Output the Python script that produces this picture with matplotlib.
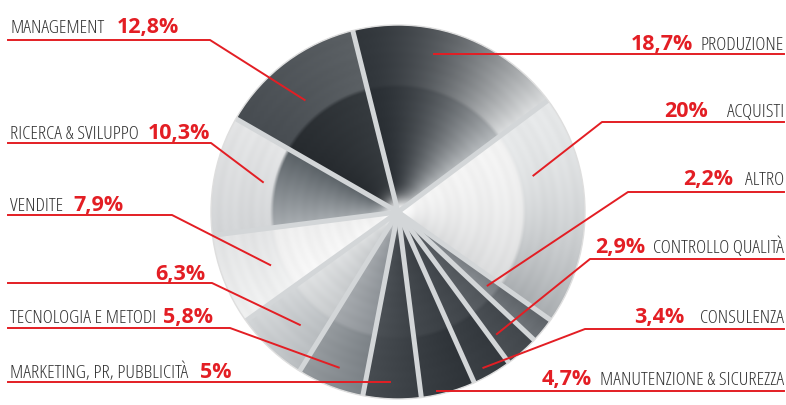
import numpy as np
import matplotlib
matplotlib.use("Agg")
import matplotlib.pyplot as plt
from matplotlib.colors import to_rgb

# slices, clockwise from the top
categories = ["PRODUZIONE", "ACQUISTI", "ALTRO", "CONTROLLO QUALITÀ", "CONSULENZA",
              "MANUTENZIONE & SICUREZZA", "MARKETING, PR, PUBBLICITÀ",
              "TECNOLOGIA E METODI", "", "VENDITE", "RICERCA & SVILUPPO", "MANAGEMENT"]
values = [18.7, 20.0, 2.2, 2.9, 3.4, 4.7, 5.0, 5.8, 6.3, 7.9, 10.3, 12.8]

W, H = 786, 406
cx, cy, R = 398, H - 213, 187
RED = "#e31e24"
SEP = "#d3d6d8"

# metal shading per slice: outer start, outer end, inner start, inner end, gamma
slice_shades = [
    ("#31363b", "#dcdedf", "#2a2f34", "#b8bcbf", 1.7),
    ("#e6e8e9", "#a9adb0", "#f3f3f3", "#dadbdc", 1.8),
    ("#5e6368", "#6f7479", "#767b80", "#868b90", 1.0),
    ("#41464b", "#4a4f54", "#50555a", "#5a5f64", 1.0),
    ("#33383d", "#3b4045", "#3f4449", "#474c51", 1.0),
    ("#2e3338", "#393e43", "#3a3f44", "#44494e", 1.0),
    ("#393e43", "#474c51", "#3d4247", "#4c5156", 1.0),
    ("#7b8186", "#969b9f", "#8e9398", "#a6aaae", 1.0),
    ("#b9bdc0", "#d3d6d8", "#c8cbcd", "#dfe1e2", 1.0),
    ("#f0f1f1", "#e2e3e4", "#f7f7f7", "#eeeeee", 1.0),
    ("#d3d5d7", "#e4e5e6", "#a8adb1", "#596065", 1.0),
    ("#474c51", "#5b6064", "#262a2e", "#363b3f", 1.0),
]

# label layout: side, label x, baseline y (px), percent x, line row y,
# outer x of line, elbow x (None = straight), position in slice (t, radius fraction)
layout = [
    ("R", 784, 50, 693, 55, 784, None, 0.40, 0.87),
    ("R", 784, 117, 708, 123, 784, 602, 0.30, 0.75),
    ("R", 784, 185, 733, 193, 784, 628, 0.51, 0.62),
    ("R", 784, 253, 645, 260, 784, 590, 0.74, 0.84),
    ("R", 784, 323, 684, 330, 784, 585, 0.62, 0.95),
    ("R", 784, 385, 592, 392, 784, None, 0.70, 0.98),
    ("L", 10, 378, 200, 383, 8, None, 0.55, 0.91),
    ("L", 10, 323, 163, 329, 8, 230, 0.48, 0.89),
    ("L", 10, 280, 155, 284, 8, 212, 0.41, 0.80),
    ("L", 10, 211, 73, 216, 8, 172, 0.46, 0.74),
    ("L", 10, 139, 148, 144, 8, 211, 0.53, 0.74),
    ("L", 10, 33, 117, 41, 8, 210, 0.44, 0.78),
]


def pct_text(v):
    s = f"{v:.1f}".replace(".", ",")
    if s.endswith(",0"):
        s = s[:-2]
    return s + "%"


fig = plt.figure(figsize=(W / 100, H / 100), dpi=100)
ax = fig.add_axes([0, 0, 1, 1])

wedges, _ = ax.pie(values, startangle=104, counterclock=False, center=(cx, cy), radius=R,
                   colors=["none"] * len(values), wedgeprops=dict(linewidth=0))
ax.set_xlim(0, W)
ax.set_ylim(0, H)
ax.set_aspect("equal")
ax.axis("off")

# metallic fill, clipped to each wedge
n = 600
xs = np.linspace(cx - R, cx + R, n)
ys = np.linspace(cy - R, cy + R, n)
X, Y = np.meshgrid(xs, ys)
dist = np.hypot(X - cx, Y - cy) / R
phi = np.degrees(np.arctan2(Y - cy, X - cx))
glow = np.exp(-(dist / 0.08) ** 2)[..., None]
bands = (1 + 0.007 * np.sin(dist * 110) + 0.006 * np.sin(dist * 37))[..., None]
ring = np.clip((dist - 0.665) / 0.02, 0, 1)[..., None]

for w, shades in zip(wedges, slice_shades):
    span = w.theta2 - w.theta1
    t = np.clip(((w.theta2 - phi) % 360) / span, 0, 1)[..., None] ** shades[4]
    c = [np.array(to_rgb(s)) for s in shades[:4]]
    outer = c[0] + (c[1] - c[0]) * t
    inner = c[2] + (c[3] - c[2]) * t
    rgb = inner * (1 - ring) + outer * ring
    rgb = np.clip(rgb * bands, 0, 1)
    rgb = rgb * (1 - glow) + glow
    im = ax.imshow(rgb, extent=[cx - R, cx + R, cy - R, cy + R], origin="lower",
                   interpolation="bilinear", zorder=1)
    im.set_clip_path(w)

# light separators between slices
for w in wedges:
    a = np.radians(w.theta2)
    ax.plot([cx, cx + R * np.cos(a)], [cy, cy + R * np.sin(a)], color=SEP, lw=3.6,
            solid_capstyle="butt", zorder=2)
ax.add_patch(plt.Circle((cx, cy), R, fill=False, ec="#dedede", lw=1.0, zorder=2))

for w, cat, v, lay in zip(wedges, categories, values, layout):
    side, lx, ly, px, row, ox, ex, tf, rf = lay
    a = np.radians(w.theta2 - tf * (w.theta2 - w.theta1))
    endx = cx + rf * R * np.cos(a)
    endy = cy + rf * R * np.sin(a)
    if ex is None:
        ax.plot([ox, endx], [H - row, H - row], color=RED, lw=1.4, zorder=3)
    else:
        ax.plot([ox, ex, endx], [H - row, H - row, endy], color=RED, lw=1.4, zorder=3)
    ha = "right" if side == "R" else "left"
    if cat:
        ax.text(lx, H - ly, cat, ha=ha, va="baseline", fontsize=14, color="#333333",
                family="Open Sans", fontstretch="condensed", fontweight=300, zorder=4)
    ax.text(px, H - ly, pct_text(v), ha=ha, va="baseline", fontsize=15.5, color=RED,
            fontweight="bold", family="Open Sans", zorder=4)

fig.savefig("out.png", dpi=100, facecolor="white")
